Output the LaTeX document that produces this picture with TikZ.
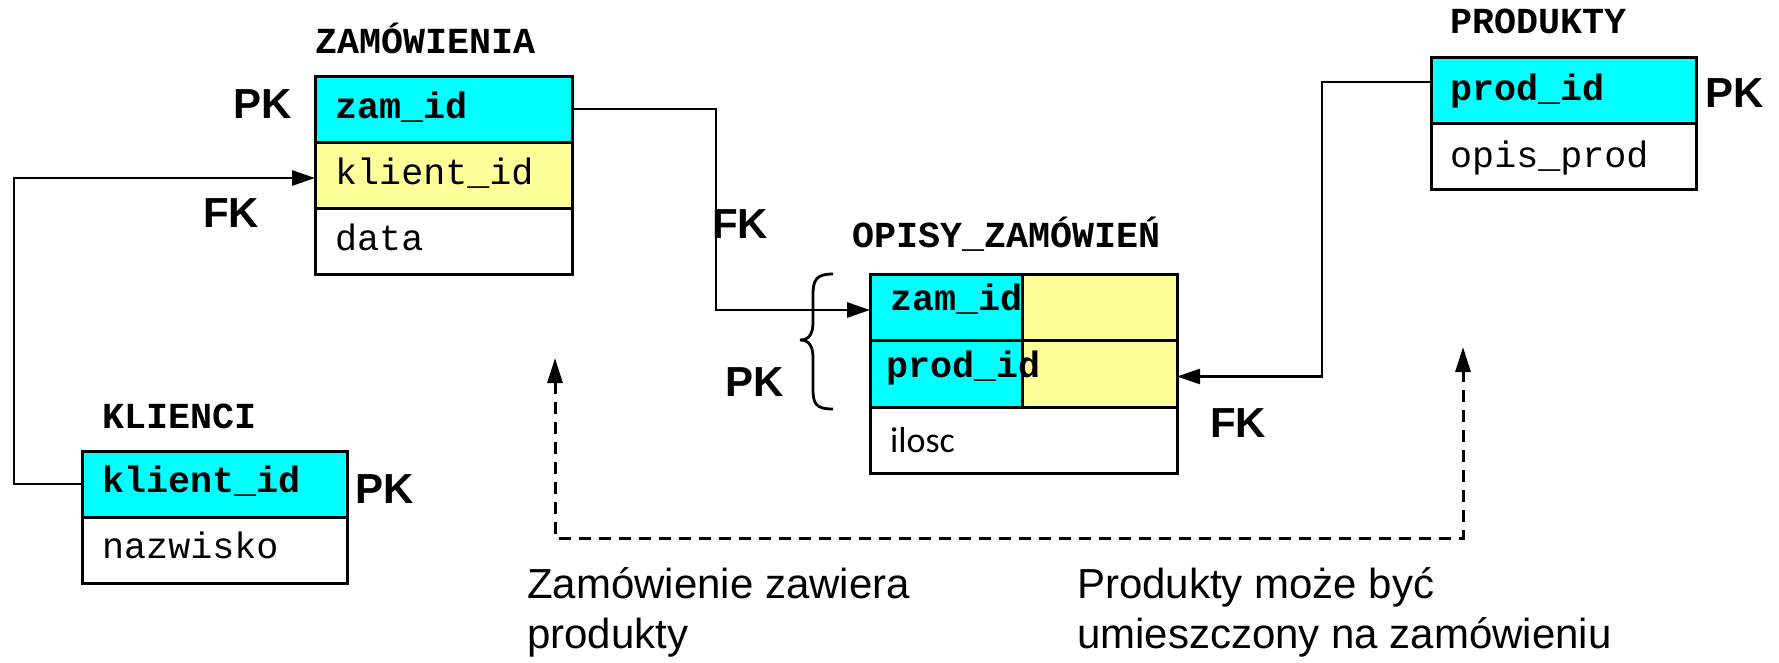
\documentclass[tikz,border=0pt]{standalone}
\usepackage{fontspec}
\setmainfont{Liberation Sans}
\newfontfamily\monof{Liberation Mono}
\newfontfamily\calib{Carlito}
\usetikzlibrary{arrows.meta}
\definecolor{pkcyan}{HTML}{00FFFF}
\definecolor{fkyellow}{HTML}{FFFF99}
\begin{document}
\begin{tikzpicture}[x=1pt,y=-1pt,
  cell/.style={draw=black, line width=3pt, anchor=north west, inner sep=0pt, outer sep=0pt},
  pkcell/.style={cell, fill=pkcyan},
  fkcell/.style={cell, fill=fkyellow},
  plaincell/.style={cell, fill=white},
  fld/.style={anchor=base west, inner sep=0pt, font=\monof\fontsize{36.7}{40}\selectfont},
  bfld/.style={anchor=base west, inner sep=0pt, font=\monof\bfseries\fontsize{36.7}{40}\selectfont},
  keylbl/.style={anchor=base west, inner sep=0pt, font=\bfseries\fontsize{42}{48}\selectfont},
  note/.style={anchor=base west, inner sep=0pt, font=\fontsize{42}{50}\selectfont},
  conn/.style={line width=2.8pt, -{Triangle[length=23pt,width=15pt]}},
  dashconn/.style={line width=3pt, dash pattern=on 12pt off 8pt,
     {Triangle[length=25pt,width=15pt]}-{Triangle[length=25pt,width=15pt]}},
  bracestyle/.style={line width=2.8pt}
]
\fill[white] (0,0) rectangle (1779,662);
\useasboundingbox (0,0) rectangle (1779,662);

% ZAMOWIENIA
\node[bfld] (tz) at (315,53) {ZAMÓWIENIA};
\node[pkcell, minimum width=257pt, minimum height=66pt] (zz) at (315,76) {};
\node[fkcell, minimum width=257pt, minimum height=66pt] (zk) at (315,142) {};
\node[plaincell, minimum width=257pt, minimum height=66pt] (zd) at (315,208) {};
\node[bfld] (zzt) at (335,118) {zam\_id};
\node[fld] (zkt) at (335,184) {klient\_id};
\node[fld] (zdt) at (335,250) {data};

% KLIENCI
\node[bfld] (tk) at (102,428) {KLIENCI};
\node[pkcell, minimum width=265pt, minimum height=66pt] (kk) at (82,451) {};
\node[plaincell, minimum width=265pt, minimum height=66pt] (kn) at (82,517) {};
\node[bfld] (kkt) at (102,492) {klient\_id};
\node[fld] (knt) at (102,558) {nazwisko};

% PRODUKTY
\node[bfld] (tp) at (1450,33) {PRODUKTY};
\node[pkcell, minimum width=265pt, minimum height=66pt] (pp) at (1431,57) {};
\node[plaincell, minimum width=265pt, minimum height=66pt] (po) at (1431,123) {};
\node[bfld] (ppt) at (1450,100) {prod\_id};
\node[fld] (pot) at (1450,167) {opis\_prod};

% OPISY_ZAMOWIEN
\node[bfld] (to) at (852,247) {OPISY\_ZAMÓWIEŃ};
\node[pkcell, minimum width=152pt, minimum height=66pt] (oz) at (870,274) {};
\node[pkcell, minimum width=152pt, minimum height=67pt] (op) at (870,340) {};
\node[fkcell, minimum width=155pt, minimum height=66pt] (oy1) at (1022,274) {};
\node[fkcell, minimum width=155pt, minimum height=67pt] (oy2) at (1022,340) {};
\node[plaincell, minimum width=307pt, minimum height=66pt] (oi) at (870,407) {};
\node[bfld] (ozt) at (890,310) {zam\_id};
\node[bfld] (opt) at (886,377) {prod\_id};
\node[anchor=base west, inner sep=0pt, font=\calib\fontsize{36}{40}\selectfont] (oit) at (890,452) {ilosc};

% brace
\draw[bracestyle] (833,274) .. controls (816,274) and (813,280) .. (813,295) -- (813,322)
  .. controls (813,334) and (809,340) .. (800,340)
  .. controls (809,340) and (813,346) .. (813,358) -- (813,389)
  .. controls (813,404) and (816,409) .. (833,409);

% key labels
\node[keylbl] (pk1) at (233,118) {PK};
\node[keylbl] (fk1) at (203,227) {FK};
\node[keylbl] (fk2) at (712,238) {FK};
\node[keylbl] (pk2) at (725,396) {PK};
\node[keylbl] (fk3) at (1210,437) {FK};
\node[keylbl] (pk3) at (355,503) {PK};
\node[keylbl] (pk4) at (1705,107) {PK};

% connectors
\draw[conn] (kk.west) -- ++(-68,0) |- ([yshift=-3pt]zk.west);
\draw[conn] (zz.east) -- ++(144,0) |- ([yshift=-3pt]oz.west);
\draw[conn] ([yshift=8pt]pp.west) -- ++(-109,0) |- ([yshift=-3pt]oy2.east);

% dashed relation
\coordinate (dl) at (555,358);
\coordinate (dlb) at (555,538);
\coordinate (dr) at (1463,347);
\draw[dashconn] (dl) -- (dlb) -| (dr);

% notes
\node[note] (n1a) at (527,598) {Zamówienie zawiera};
\node[note] (n1b) at (527,648) {produkty};
\node[note] (n2a) at (1077,598) {Produkty może być};
\node[note] (n2b) at (1077,648) {umieszczony na zamówieniu};
\end{tikzpicture}
\end{document}
